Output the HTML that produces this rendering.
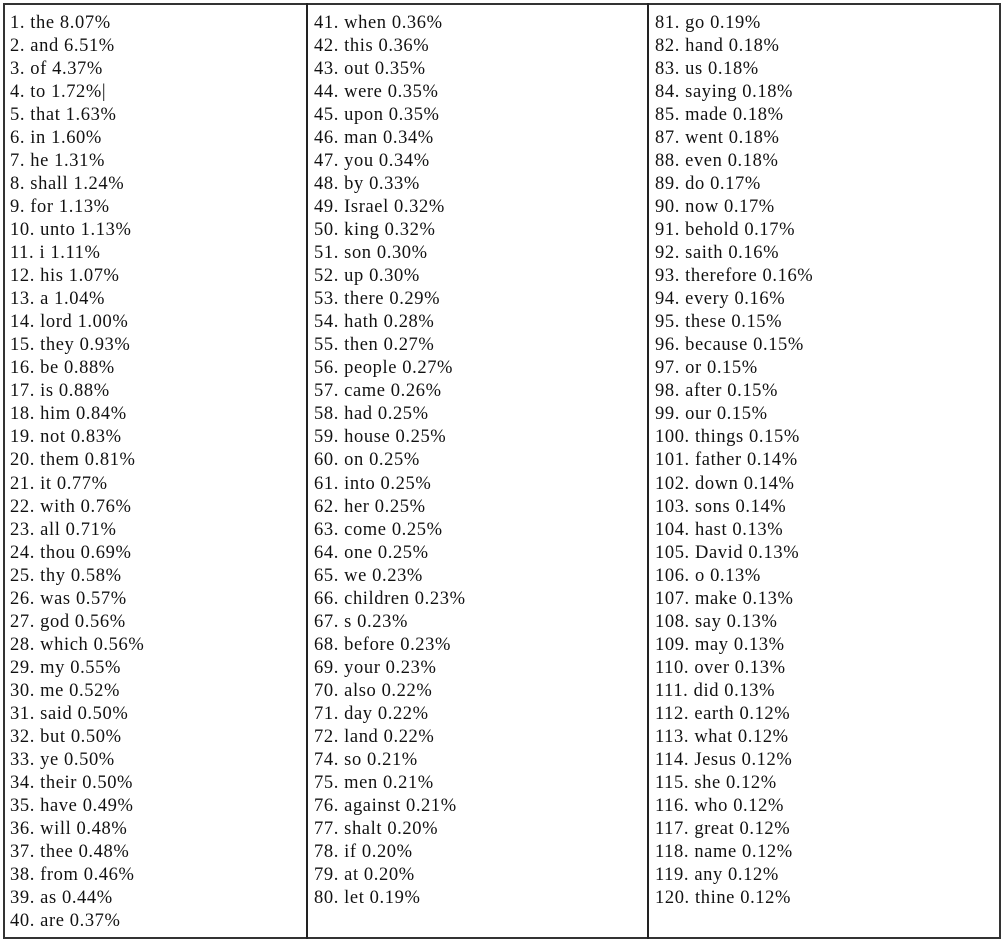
<!DOCTYPE html>
<html><head><meta charset="utf-8"><style>
body{margin:0;background:#fff;width:1006px;height:943px;position:relative;font-family:"Liberation Serif",serif;font-size:18.5px;letter-spacing:0.6px;color:#111}
#tbl{position:absolute;left:3px;top:3px;width:994px;height:932px;border:2px solid #333}
.div{position:absolute;top:3px;width:2px;height:936px;background:#222}
.r{position:absolute;white-space:nowrap;line-height:23px;height:23px}
</style></head><body>
<div id="tbl"></div>
<div class="div" style="left:306px"></div>
<div class="div" style="left:647px"></div>
<div id="c"></div>
<script>
const col1=["1. the 8.07%","2. and 6.51%","3. of 4.37%","4. to 1.72%|","5. that 1.63%","6. in 1.60%","7. he 1.31%","8. shall 1.24%","9. for 1.13%","10. unto 1.13%","11. i 1.11%","12. his 1.07%","13. a 1.04%","14. lord 1.00%","15. they 0.93%","16. be 0.88%","17. is 0.88%","18. him 0.84%","19. not 0.83%","20. them 0.81%","21. it 0.77%","22. with 0.76%","23. all 0.71%","24. thou 0.69%","25. thy 0.58%","26. was 0.57%","27. god 0.56%","28. which 0.56%","29. my 0.55%","30. me 0.52%","31. said 0.50%","32. but 0.50%","33. ye 0.50%","34. their 0.50%","35. have 0.49%","36. will 0.48%","37. thee 0.48%","38. from 0.46%","39. as 0.44%","40. are 0.37%"];
const col2=["41. when 0.36%","42. this 0.36%","43. out 0.35%","44. were 0.35%","45. upon 0.35%","46. man 0.34%","47. you 0.34%","48. by 0.33%","49. Israel 0.32%","50. king 0.32%","51. son 0.30%","52. up 0.30%","53. there 0.29%","54. hath 0.28%","55. then 0.27%","56. people 0.27%","57. came 0.26%","58. had 0.25%","59. house 0.25%","60. on 0.25%","61. into 0.25%","62. her 0.25%","63. come 0.25%","64. one 0.25%","65. we 0.23%","66. children 0.23%","67. s 0.23%","68. before 0.23%","69. your 0.23%","70. also 0.22%","71. day 0.22%","72. land 0.22%","74. so 0.21%","75. men 0.21%","76. against 0.21%","77. shalt 0.20%","78. if 0.20%","79. at 0.20%","80. let 0.19%"];
const col3=["81. go 0.19%","82. hand 0.18%","83. us 0.18%","84. saying 0.18%","85. made 0.18%","87. went 0.18%","88. even 0.18%","89. do 0.17%","90. now 0.17%","91. behold 0.17%","92. saith 0.16%","93. therefore 0.16%","94. every 0.16%","95. these 0.15%","96. because 0.15%","97. or 0.15%","98. after 0.15%","99. our 0.15%","100. things 0.15%","101. father 0.14%","102. down 0.14%","103. sons 0.14%","104. hast 0.13%","105. David 0.13%","106. o 0.13%","107. make 0.13%","108. say 0.13%","109. may 0.13%","110. over 0.13%","111. did 0.13%","112. earth 0.12%","113. what 0.12%","114. Jesus 0.12%","115. she 0.12%","116. who 0.12%","117. great 0.12%","118. name 0.12%","119. any 0.12%","120. thine 0.12%"];
const c=document.getElementById('c');
[[col1,10],[col2,314],[col3,655]].forEach(([arr,x],ci)=>{
 arr.forEach((t,i)=>{
  const d=document.createElement('div');
  d.className='r';
  d.style.left=x+'px';
  d.style.top=(11.5+23.05*i)+'px';
  d.textContent=t;
  
  
  c.appendChild(d);
 });
});
</script>
</body></html>
